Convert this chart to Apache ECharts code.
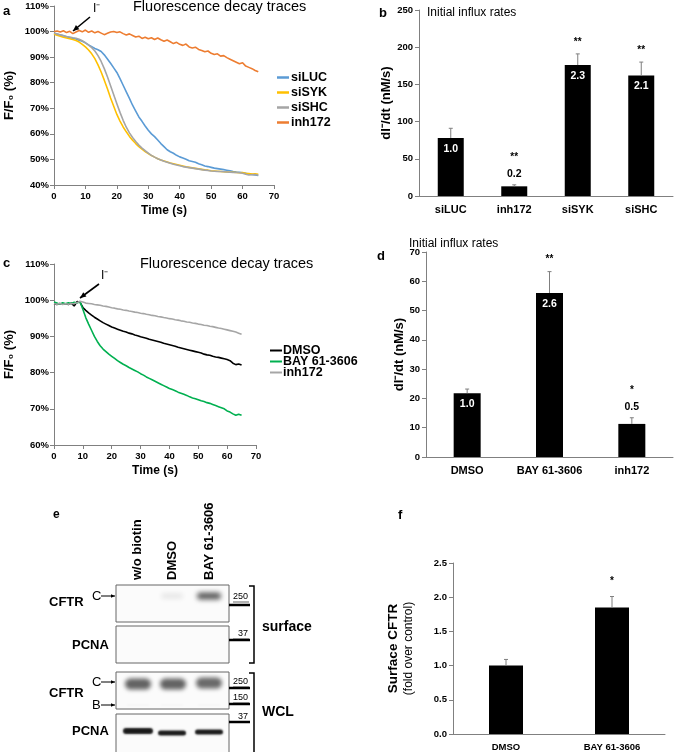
<!DOCTYPE html>
<html><head><meta charset="utf-8">
<script src="https://cdn.jsdelivr.net/npm/echarts@6/dist/echarts.min.js"></script>
<style>html,body{margin:0;padding:0;background:#fff}#c{width:677px;height:752px}</style>
</head><body><div id="c"></div>
<script>
// ---------- DATA ----------
const timeS = Array.from({length: 66}, (_, i) => i); // sampling times (s)
// Panel a traces (F/F0 %)
const aLUC = [99.3,99.0,98.6,98.4,98.0,97.6,97.4,97.1,96.6,96.2,95.6,94.8,94.1,93.4,92.9,92.2,90.9,89.3,87.6,85.8,84.0,81.6,79.0,76.4,73.9,71.2,68.9,66.6,64.9,63.1,61.4,60.0,58.9,57.6,56.2,55.0,53.8,53.0,52.4,51.6,51.0,50.6,50.1,49.5,49.2,48.9,48.3,47.9,47.4,47.2,46.9,46.6,46.4,46.2,46.0,45.8,45.6,45.3,45.1,45.0,44.8,44.6,44.3,44.1,43.9,43.7];
const aSYK = [99.0,98.6,98.2,97.8,97.5,97.2,96.9,96.5,95.9,95.0,94.0,92.8,91.3,89.4,87.0,84.2,81.0,77.6,74.0,70.8,67.6,65.0,62.7,60.8,59.0,57.5,56.2,55.0,54.0,53.1,52.3,51.5,50.9,50.3,49.8,49.4,49.0,48.6,48.3,48.0,47.7,47.4,47.1,46.9,46.7,46.5,46.3,46.1,45.9,45.8,45.6,45.5,45.4,45.3,45.2,45.1,45.0,45.0,44.9,44.8,44.9,44.6,44.5,44.3,44.4,44.2];
const aSHC = [99.4,99.0,98.7,98.4,98.1,97.9,97.6,97.4,97.0,96.4,95.6,94.7,93.7,92.4,90.6,88.3,85.5,82.3,78.8,75.3,71.8,68.4,65.3,62.6,60.4,58.6,57.0,55.6,54.4,53.4,52.5,51.6,50.9,50.3,49.8,49.3,48.9,48.5,48.1,47.8,47.5,47.2,47.0,46.8,46.6,46.4,46.2,46.0,45.8,45.7,45.5,45.4,45.3,45.3,45.2,45.1,45.0,44.9,44.9,44.8,44.6,44.2,43.9,44.0,44.1,43.8];
const aINH = [100.0,100.2,99.8,100.3,99.6,100.1,99.2,99.8,100.4,99.9,100.6,99.7,100.2,99.5,100.0,99.4,98.8,99.3,99.8,100.0,99.6,99.9,99.2,98.7,99.1,98.5,97.9,98.2,97.3,97.8,97.2,97.6,96.9,97.5,96.8,96.2,96.7,96.0,95.3,95.8,95.0,94.6,95.1,94.0,93.6,93.9,93.0,92.6,92.1,92.4,91.5,91.0,91.3,90.4,90.6,89.8,89.2,88.6,88.0,87.4,87.8,86.5,86.0,85.5,84.8,84.3];
// Panel c traces (F/F0 %)
const cDMSO = [99.0,98.8,99.1,98.9,99.0,98.8,99.2,98.4,99.6,99.5,98.0,97.2,96.5,95.9,95.3,94.8,94.3,93.8,93.4,93.0,92.6,92.3,92.0,91.7,91.4,91.2,90.9,90.7,90.4,90.2,89.9,89.7,89.5,89.2,89.0,88.8,88.6,88.4,88.1,87.9,87.7,87.5,87.3,87.0,86.8,86.6,86.4,86.2,86.0,85.8,85.6,85.4,85.1,84.9,84.8,84.5,84.3,84.2,84.0,83.8,83.6,83.3,82.6,82.2,82.4,82.1];
const cBAY = [99.5,99.2,98.9,99.3,99.0,99.3,99.1,99.4,99.2,99.6,97.5,95.2,93.4,91.7,90.0,88.6,87.4,86.5,85.8,85.1,84.5,83.9,83.3,82.8,82.3,81.9,81.4,81.0,80.6,80.2,79.7,79.3,78.8,78.4,78.0,77.6,77.2,76.8,76.4,76.0,75.6,75.3,75.0,74.6,74.3,74.0,73.7,73.3,73.0,72.8,72.5,72.2,72.0,71.7,71.5,71.2,70.9,70.6,70.3,70.0,69.4,69.1,68.6,68.2,68.5,68.2];
const cINH = [99.0,98.9,99.1,98.8,99.0,98.9,99.0,99.1,99.3,99.7,99.5,99.2,99.1,99.0,98.8,98.7,98.6,98.4,98.3,98.1,97.9,97.8,97.6,97.5,97.3,97.2,97.0,96.9,96.7,96.6,96.4,96.3,96.1,96.0,95.8,95.7,95.5,95.4,95.2,95.1,94.9,94.8,94.6,94.5,94.3,94.2,94.0,93.9,93.7,93.6,93.4,93.3,93.1,93.0,92.8,92.7,92.5,92.3,92.2,92.0,91.8,91.6,91.4,91.2,90.9,90.6];
// Panel b
const catsB = ['siLUC','inh172','siSYK','siSHC'];
const meanB = [78, 13, 176, 162];
const errB  = [91, 15, 191, 180];
const foldB = ['1.0','0.2','2.3','2.1'];
const sigB  = ['', '**', '**', '**'];
// Panel d
const catsD = ['DMSO','BAY 61-3606','inh172'];
const meanD = [21.8, 56.0, 11.3];
const errD  = [23.2, 63.3, 13.4];
const foldD = ['1.0','2.6','0.5'];
const sigD  = ['', '**', '*'];
// Panel f
const catsF = ['DMSO','BAY 61-3606'];
const meanF = [1.0, 1.85];
const errF  = [1.09, 2.01];
const sigF  = ['', '*'];
// Tick ranges
const ticksA = {min: 40, max: 110, step: 10};
const ticksC = {min: 60, max: 110, step: 10};

// ---------- STYLE ----------
const FF = "'Liberation Sans', Arial, sans-serif";
const AX = '#808080';
function pairs(vals){ return vals.map((v,i)=>[timeS[i], v]); }

function valX(gi, nameGap){
  return {type:'value', gridIndex:gi, min:0, max:70, interval:10,
    name:'Time (s)', nameLocation:'middle', nameGap:nameGap,
    nameTextStyle:{fontFamily:FF, fontWeight:'bold', fontSize:12, color:'#000'},
    axisLine:{lineStyle:{color:AX}}, axisTick:{length:4, lineStyle:{color:AX}},
    axisLabel:{fontFamily:FF, fontWeight:'bold', fontSize:9.5, color:'#000', margin:6},
    splitLine:{show:false}};
}
function pctY(gi, t, nameGap){
  return {type:'value', gridIndex:gi, min:t.min, max:t.max, interval:t.step,
    name:'F/F\u2080 (%)', nameLocation:'middle', nameGap:nameGap, nameRotate:90,
    nameTextStyle:{fontFamily:FF, fontWeight:'bold', fontSize:13, color:'#000'},
    axisLine:{show:true, lineStyle:{color:AX}}, axisTick:{show:true, length:4, lineStyle:{color:AX}},
    axisLabel:{fontFamily:FF, fontWeight:'bold', fontSize:9.5, color:'#000', margin:5, formatter:'{value}%'},
    splitLine:{show:false}};
}
function catX(gi, cats, fs){
  return {type:'category', gridIndex:gi, data:cats,
    axisLine:{lineStyle:{color:AX}}, axisTick:{length:4, lineStyle:{color:AX}},
    axisLabel:{interval:0, fontFamily:FF, fontWeight:'bold', fontSize:fs, color:'#000', margin:8}};
}
function barY(gi, min, max, step, name, gap, fmt){
  return {type:'value', gridIndex:gi, min:min, max:max, interval:step,
    name:name, nameLocation:'middle', nameGap:gap, nameRotate:90,
    nameTextStyle:{fontFamily:FF, fontWeight:'bold', fontSize:13, color:'#000',
      rich:{b:{fontFamily:FF, fontWeight:'bold', fontSize:13.5, color:'#000', lineHeight:16},
            n:{fontFamily:FF, fontWeight:'normal', fontSize:12, color:'#000', lineHeight:15}}},
    axisLine:{show:true, lineStyle:{color:AX}}, axisTick:{show:true, length:4, lineStyle:{color:AX}},
    axisLabel:{fontFamily:FF, fontWeight:'bold', fontSize:9.5, color:'#000', margin:6, formatter:fmt},
    splitLine:{show:false}};
}
function lineS(name, xi, vals, color, w){
  return {type:'line', name:name, xAxisIndex:xi, yAxisIndex:xi, data:pairs(vals),
    showSymbol:false, symbol:'none', lineStyle:{color:color, width:w||1.6}, itemStyle:{color:color},
    animation:false};
}
function barS(xi, vals, bw){
  return {type:'bar', xAxisIndex:xi, yAxisIndex:xi, data:vals, barWidth:bw,
    itemStyle:{color:'#000'}, animation:false};
}
function errS(xi, means, errs, folds, sigs, maxV){
  return {type:'custom', xAxisIndex:xi, yAxisIndex:xi, z:5, animation:false,
    data: means.map((m,i)=>[i, m, errs[i]]),
    renderItem:function(params, api){
      const i = api.value(0);
      const pTop = api.coord([i, api.value(1)]);
      const pErr = api.coord([i, api.value(2)]);
      const ch = [
        {type:'line', shape:{x1:pTop[0], y1:pTop[1], x2:pErr[0], y2:pErr[1]}, style:{stroke:'#7f7f7f', lineWidth:1}},
        {type:'line', shape:{x1:pErr[0]-2, y1:pErr[1], x2:pErr[0]+2, y2:pErr[1]}, style:{stroke:'#7f7f7f', lineWidth:1}}
      ];
      const fold = folds ? folds[i] : '';
      const sig = sigs[i];
      const inside = api.value(1) > 0.25*maxV;
      let starY;
      if (fold) {
        if (inside) {
          ch.push({type:'text', style:{text:fold, x:pTop[0], y:pTop[1]+11, align:'center', verticalAlign:'middle',
            font:'bold 10.5px '+FF, fill:'#fff'}});
          starY = pErr[1]-12;
        } else {
          const ly = pErr[1]-11;
          ch.push({type:'text', style:{text:fold, x:pTop[0], y:ly, align:'center', verticalAlign:'middle',
            font:'bold 10.5px '+FF, fill:'#000'}});
          starY = ly-17;
        }
      } else starY = pErr[1]-15;
      if (sig) ch.push({type:'text', style:{text:sig, x:pTop[0], y:starY, align:'center', verticalAlign:'middle',
            font:'bold 10px '+FF, fill:'#000'}});
      return {type:'group', children:ch};
    }};
}

// ---------- BLOT (panel e, drawn as graphics) ----------
const G = [];
function txt(x,y,t,font,opt){ G.push(Object.assign({type:'text', x:x, y:y, style:{text:t, font:font, fill:'#000', align:'left', verticalAlign:'middle'}}, opt||{})); }
function ln(pts,w,c){ G.push({type:'polyline', shape:{points:pts}, style:{stroke:c||'#000', lineWidth:w, fill:null}}); }
function arrow(x1,y1,x2,y2,w,head){
  ln([[x1,y1],[x2,y2]], w);
  const a = Math.atan2(y2-y1, x2-x1), h = head;
  G.push({type:'polygon', shape:{points:[[x2,y2],[x2-h*Math.cos(a)+h*0.45*Math.sin(a), y2-h*Math.sin(a)-h*0.45*Math.cos(a)],[x2-h*Math.cos(a)-h*0.45*Math.sin(a), y2-h*Math.sin(a)+h*0.45*Math.cos(a)]]}, style:{fill:'#000'}});
}
function band(cx,cy,w,h,color,blur){
  G.push({type:'rect', shape:{x:cx-w/2-2000, y:cy-h/2, width:w, height:h, r:h/2}, style:{fill:color, shadowBlur:blur, shadowColor:color, shadowOffsetX:2000}});
}
// panel letters and titles
txt(3,11,'a','bold 13px '+FF);
txt(379,13,'b','bold 13px '+FF);
txt(3,263,'c','bold 13px '+FF);
txt(377,256,'d','bold 13px '+FF);
txt(53,515,'e','bold 12px '+FF);
txt(398,515,'f','bold 13px '+FF);
txt(133,7,'Fluorescence decay traces','14.5px '+FF);
txt(140,264,'Fluorescence decay traces','14.5px '+FF);
txt(427,13,'Initial influx rates','12px '+FF);
txt(409,244,'Initial influx rates','12px '+FF);
// I- arrows
txt(93,9,'I\u207B','12px '+FF);
arrow(90,17,73,31,1.6,6);
txt(101,276,'I\u207B','12px '+FF);
arrow(99,284,80,298,1.6,6);
// column headers
[['w/o biotin',137],['DMSO',172],['BAY 61-3606',209]].forEach(function(c){
  G.push({type:'text', x:c[1], y:580, rotation:Math.PI/2, style:{text:c[0], font:'bold 13px '+FF, fill:'#000', align:'left', verticalAlign:'middle'}});
});
// boxes
[[585,622],[626,663],[672,709],[714,760]].forEach(function(b){
  G.push({type:'rect', shape:{x:116, y:b[0], width:113, height:b[1]-b[0]}, style:{fill:'#fbfbfb', stroke:'#666', lineWidth:1}});
});
// bands
band(172,596,22,5,'rgba(0,0,0,0.3)',5);
band(209,596,24,7,'rgba(0,0,0,0.8)',5);
band(138,684,26,11,'rgba(0,0,0,0.78)',4);
band(173,684,26,11,'rgba(0,0,0,0.78)',4);
band(209,683,26,11,'rgba(0,0,0,0.76)',4);
band(138,705,24,1.5,'rgba(0,0,0,0.15)',2);
band(172,705,24,1.5,'rgba(0,0,0,0.15)',2);
band(209,705,24,1.5,'rgba(0,0,0,0.15)',2);
band(138,731,30,6,'rgba(0,0,0,0.95)',2);
band(172,733,28,5,'rgba(0,0,0,0.95)',2);
band(209,732,28,5,'rgba(0,0,0,0.95)',2);
// row labels
txt(49,602,'CFTR','bold 13px '+FF);
txt(72,645,'PCNA','bold 13px '+FF);
txt(49,693,'CFTR','bold 13px '+FF);
txt(72,731,'PCNA','bold 13px '+FF);
txt(92,596,'C','13px '+FF); arrow(101,596,115,596,1,4);
txt(92,682,'C','13px '+FF); arrow(101,682,115,682,1,4);
txt(92,705,'B','13px '+FF); arrow(101,705,115,705,1,4);
// markers
[[605,'250',597],[640,'37',634],[688,'250',682],[704,'150',698],[722,'37',717]].forEach(function(m){
  ln([[229,m[0]],[250,m[0]]],2.5);
  txt(248,m[2],m[1],'9px '+FF,{style:{text:m[1], font:'9px '+FF, fill:'#000', align:'right', verticalAlign:'middle'}});
  ln([[233,m[2]+5],[249,m[2]+5]],0.6);
});
// brackets
ln([[249,586],[254,586],[254,663],[249,663]],1.5);
ln([[249,673],[254,673],[254,760]],1.5);
txt(262,627,'surface','bold 14px '+FF);
txt(262,712,'WCL','bold 14px '+FF);

// ---------- CHART ----------
const chart = echarts.init(document.getElementById('c'), null, {renderer:'canvas'});
chart.setOption({
  animation:false,
  backgroundColor:'#fff',
  grid:[
    {left:54, top:6, width:220, height:179},
    {left:419, top:10, width:254, height:186},
    {left:54, top:264, width:202, height:181},
    {left:426, top:252, width:247, height:205},
    {left:453, top:563, width:212, height:171}
  ],
  xAxis:[ valX(0,20), catX(1,catsB,11), valX(2,20), catX(3,catsD,11), catX(4,catsF,9.5) ],
  yAxis:[
    pctY(0,ticksA,38),
    barY(1,0,250,50,'dI\u207B/dt (nM/s)',26,'{value}'),
    pctY(2,ticksC,38),
    barY(3,0,70,10,'dI\u207B/dt (nM/s)',15,'{value}'),
    barY(4,0,2.5,0.5,'{b|Surface CFTR}\n{n|(fold over control)}',37,function(v){return v.toFixed(1);})
  ],
  legend:[
    {data:['siLUC','siSYK','siSHC','inh172'], orient:'vertical', left:277, top:71, padding:0,
     itemWidth:12, itemHeight:2.5, itemGap:2, icon:'rect',
     textStyle:{fontFamily:FF, fontWeight:'bold', fontSize:12.5, color:'#000', padding:[0,0,0,-3]}},
    {data:['DMSO','BAY 61-3606','inh172 '], orient:'vertical', left:270, top:344, padding:0,
     itemWidth:12, itemHeight:2, itemGap:-2, icon:'rect',
     textStyle:{fontFamily:FF, fontWeight:'bold', fontSize:12.5, color:'#000', padding:[0,0,0,-4]}}
  ],
  series:[
    lineS('siLUC',0,aLUC,'#5b9bd5'),
    lineS('siSYK',0,aSYK,'#ffc000'),
    lineS('siSHC',0,aSHC,'#a5a5a5'),
    lineS('inh172',0,aINH,'#ed7d31'),
    lineS('DMSO',2,cDMSO,'#000'),
    lineS('BAY 61-3606',2,cBAY,'#00b050'),
    lineS('inh172 ',2,cINH,'#a6a6a6'),
    barS(1,meanB,26), errS(1,meanB,errB,foldB,sigB,250),
    barS(3,meanD,27), errS(3,meanD,errD,foldD,sigD,70),
    barS(4,meanF,34), errS(4,meanF,errF,null,sigF,2.5)
  ],
  graphic: G
});
</script></body></html>
